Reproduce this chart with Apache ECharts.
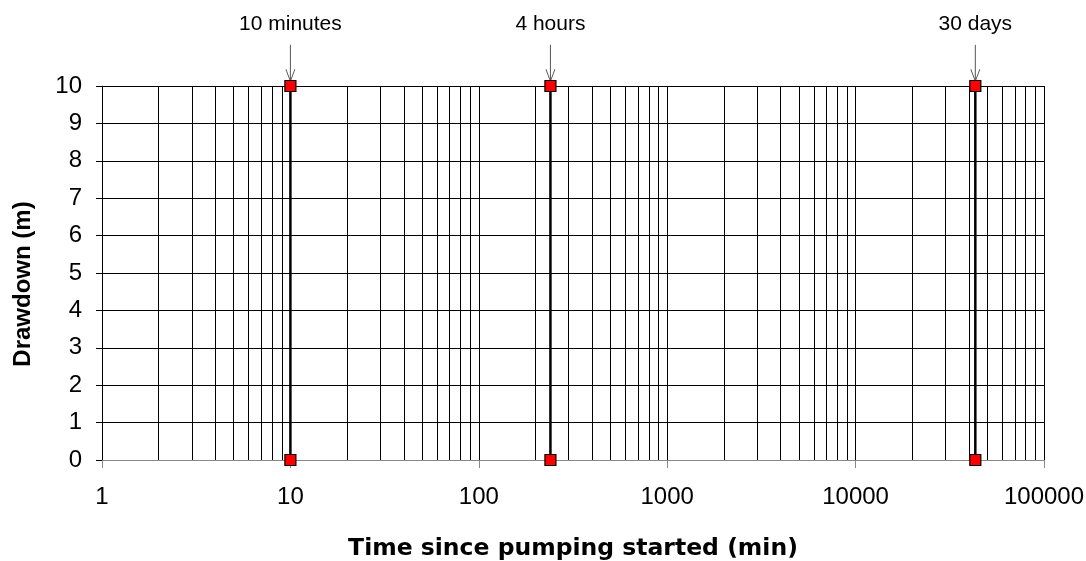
<!DOCTYPE html>
<html><head><meta charset="utf-8">
<script src="https://cdn.jsdelivr.net/npm/echarts@6/dist/echarts.min.js"></script>
<style>html,body{margin:0;padding:0;background:#fff}#c{width:1086px;height:561px}</style>
</head><body><div id="c"></div>
<script>
// Data
const eventNames = ['10 minutes', '4 hours', '30 days'];
const eventTimes = [10, 240, 43200];          // minutes
const drawdownLow = [0, 0, 0];
const drawdownHigh = [10, 10, 10];
const arrowTop = 11.1;      // annotation arrow start (drawdown units, above the plot)
const arrowTip = 10.13;     // annotation arrow tip
const yTicks = [0,1,2,3,4,5,6,7,8,9,10];
const xDecades = [1, 10, 100, 1000, 10000, 100000];
const minorMultipliers = [2,3,4,5,6,7,8,9];

const gridValues = [];
xDecades.forEach(d => { gridValues.push(d); if (d < 100000) minorMultipliers.forEach(m => gridValues.push(m * d)); });

const FONT = 'Liberation Sans, Arial, sans-serif';
const chart = echarts.init(document.getElementById('c'));

const series = [];
// vertical grid lines through the log scale
series.push({
  type: 'line', data: [], silent: true,
  markLine: {
    silent: true, symbol: ['none','none'], animation: false,
    label: {show: false},
    lineStyle: {color: '#000', width: 1, type: 'solid'},
    data: gridValues.map(v => ({xAxis: v}))
  }
});
eventTimes.forEach((t, i) => {
  series.push({
    type: 'line', clip: false, animation: false, silent: true,
    data: [[t, drawdownLow[i]], [t, drawdownHigh[i]]],
    lineStyle: {color: '#000', width: 2.5},
    symbol: 'rect', symbolSize: 11,
    itemStyle: {color: '#ff0000', borderColor: '#000', borderWidth: 1.2},
    z: 5
  });
  // annotation arrow + text
  series.push({
    type: 'line', clip: false, animation: false, silent: true,
    showAllSymbol: true,
    lineStyle: {color: '#555', width: 1},
    itemStyle: {color: 'rgba(0,0,0,0)', borderColor: '#555', borderWidth: 1},
    z: 4,
    data: [
      {value: [t, arrowTop], symbol: 'rect', symbolSize: 1,
       itemStyle: {color: 'rgba(0,0,0,0)', borderWidth: 0},
       label: {show: true, position: 'top', distance: 10, formatter: eventNames[i],
               color: '#000', fontSize: 21, fontFamily: FONT}},
      {value: [t, arrowTip], symbol: 'path://M0,0 L5,10 L10,0', symbolSize: [9, 12],
       symbolOffset: [0, -6], symbolKeepAspect: false}
    ]
  });
});

chart.setOption({
  backgroundColor: '#fff',
  animation: false,
  grid: {left: 102, right: 42, top: 86, bottom: 101, containLabel: false, outerBoundsMode: 'none'},
  xAxis: {
    type: 'log', min: 1, max: 100000, logBase: 10,
    name: 'Time since pumping started (min)', nameLocation: 'middle', nameGap: 77,
    nameTextStyle: {fontSize: 23.5, fontWeight: 'bold', fontFamily: 'DejaVu Sans, sans-serif', color: '#000'},
    axisLine: {show: true, onZero: false, lineStyle: {color: '#888', width: 1}},
    axisTick: {show: true, length: 8, lineStyle: {color: '#888'}},
    axisLabel: {fontSize: 24, fontFamily: FONT, color: '#000', margin: 25,
                formatter: v => String(Math.round(v))},
    splitLine: {show: false}
  },
  yAxis: {
    type: 'value', min: 0, max: 10, interval: 1,
    name: 'Drawdown (m)', nameLocation: 'middle', nameGap: 67,
    nameTextStyle: {fontSize: 24, fontWeight: 'bold', fontFamily: FONT, color: '#000',
                    padding: [0, 22, 0, 0]},
    axisLine: {show: true, lineStyle: {color: '#888', width: 1}},
    axisTick: {show: true, length: 6, lineStyle: {color: '#000'}},
    axisLabel: {fontSize: 24, fontFamily: FONT, color: '#000', margin: 20},
    splitLine: {show: true, lineStyle: {color: '#000', width: 1}}
  },
  series: series
});
</script></body></html>
